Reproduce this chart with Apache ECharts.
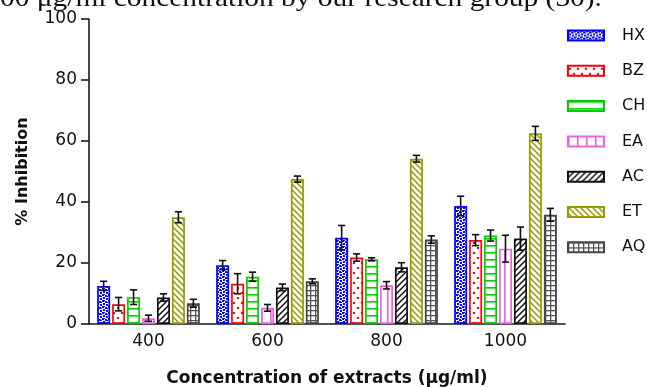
<!DOCTYPE html>
<html>
<head>
<meta charset="utf-8">
<script src="https://cdn.jsdelivr.net/npm/echarts@6/dist/echarts.min.js"></script>
<style>
html,body{margin:0;padding:0;background:#fff;}
#chart{width:647px;height:387px;}
</style>
</head>
<body>
<div id="chart"></div>
<script>
// ---- data ----
const categories = ['400', '600', '800', '1000'];
const seriesNames = ['HX', 'BZ', 'CH', 'EA', 'AC', 'ET', 'AQ'];
const HX = [12.5, 19.3, 28.3, 38.7];
const BZ = [6.5, 13.2, 21.8, 27.5];
const CH = [8.8, 15.5, 21.2, 29.0];
const EA = [1.9, 5.3, 12.7, 24.7];
const AC = [8.7, 12.0, 18.6, 28.0];
const ET = [35.0, 47.5, 54.2, 62.5];
const AQ = [6.8, 14.0, 27.7, 35.8];
const HX_err = [1.5, 1.5, 4.0, 3.2];
const BZ_err = [2.2, 3.3, 1.2, 1.8];
const CH_err = [2.4, 1.5, 0.5, 1.8];
const EA_err = [1.0, 1.1, 1.2, 4.4];
const AC_err = [1.2, 1.1, 1.5, 3.8];
const ET_err = [1.8, 1.0, 1.1, 2.3];
const AQ_err = [1.3, 0.8, 1.2, 2.1];
const yTicks = [0, 20, 40, 60, 80, 100];
const captionText = '00 μg/ml concentration by our research group (30).';

const values = [HX, BZ, CH, EA, AC, ET, AQ];
const errors = [HX_err, BZ_err, CH_err, EA_err, AC_err, ET_err, AQ_err];

// ---- patterns ----
function tile(w, h, draw) {
  const c = document.createElement('canvas');
  c.width = w; c.height = h;
  const ctx = c.getContext('2d');
  ctx.fillStyle = '#ffffff';
  ctx.fillRect(0, 0, w, h);
  draw(ctx, w, h);
  return { image: c, repeat: 'repeat' };
}
function diag(color, lw, w, up) {
  return tile(w, w, function (ctx) {
    ctx.strokeStyle = color; ctx.lineWidth = lw;
    ctx.beginPath();
    if (up) {
      ctx.moveTo(-1, w + 1); ctx.lineTo(w + 1, -1);
      ctx.moveTo(-1, 1); ctx.lineTo(1, -1);
      ctx.moveTo(w - 1, w + 1); ctx.lineTo(w + 1, w - 1);
    } else {
      ctx.moveTo(-1, -1); ctx.lineTo(w + 1, w + 1);
      ctx.moveTo(w - 1, -1); ctx.lineTo(w + 1, 1);
      ctx.moveTo(-1, w - 1); ctx.lineTo(1, w + 1);
    }
    ctx.stroke();
  });
}
const fills = [
  tile(6, 6, function (ctx) {
    ctx.fillStyle = '#0000ff';
    ctx.fillRect(0, 0, 2, 2); ctx.fillRect(3, 1, 2, 2);
    ctx.fillRect(1, 3, 2, 2); ctx.fillRect(4, 4, 2, 2);
    ctx.fillRect(2, 0, 1, 1); ctx.fillRect(5, 2, 1, 1);
  }),
  tile(8, 10, function (ctx) {
    ctx.fillStyle = '#ff0000';
    ctx.fillRect(1, 2, 2, 2); ctx.fillRect(5, 7, 2, 2);
  }),
  tile(4, 7, function (ctx) {
    ctx.fillStyle = '#00cc00';
    ctx.fillRect(0, 0, 4, 1.6);
  }),
  tile(9, 4, function (ctx) {
    ctx.fillStyle = '#f060e0';
    ctx.fillRect(0, 0, 1.6, 4);
  }),
  diag('#111111', 1.5, 6, true),
  diag('#999900', 1.5, 6, false),
  tile(5, 5, function (ctx) {
    ctx.fillStyle = '#555555';
    ctx.fillRect(0, 0, 5, 1.3); ctx.fillRect(0, 0, 1.3, 5);
  })
];
const borders = ['#0000ff', '#ff0000', '#00cc00', '#f060e0', '#111111', '#999900', '#444444'];

const barWidth = 13;
const gapRatio = 0.15;
const step = barWidth * (1 + gapRatio);

const series = [];
seriesNames.forEach(function (name, i) {
  series.push({
    name: name,
    type: 'bar',
    barWidth: barWidth,
    barGap: (gapRatio * 100) + '%',
    data: values[i],
    itemStyle: { color: fills[i], borderColor: borders[i], borderWidth: 1.7 },
    emphasis: { disabled: true },
    z: 2
  });
});
seriesNames.forEach(function (name, i) {
  series.push({
    name: name + ' error',
    type: 'custom',
    z: 5,
    data: values[i].map(function (v, k) { return [k, v, errors[i][k]]; }),
    renderItem: function (params, api) {
      const k = api.value(0), v = api.value(1), e = api.value(2);
      const c = api.coord([k, v]);
      const lo = api.coord([k, v - e])[1];
      const hi = api.coord([k, v + e])[1];
      const x = c[0] + (i - 3) * step;
      const cap = 3.6;
      const st = { stroke: '#111', lineWidth: 1.6, fill: null };
      return {
        type: 'group',
        children: [
          { type: 'line', shape: { x1: x, y1: lo, x2: x, y2: hi }, style: st },
          { type: 'line', shape: { x1: x - cap, y1: lo, x2: x + cap, y2: lo }, style: st },
          { type: 'line', shape: { x1: x - cap, y1: hi, x2: x + cap, y2: hi }, style: st }
        ]
      };
    }
  });
});

const chart = echarts.init(document.getElementById('chart'));
chart.setOption({
  animation: false,
  backgroundColor: '#ffffff',
  textStyle: { fontFamily: 'DejaVu Sans' },
  grid: { left: 89, right: 82, top: 19, bottom: 63, containLabel: false, outerBoundsMode: 'none' },
  legend: {
    orient: 'vertical',
    left: 562,
    top: 22.5,
    itemWidth: 36,
    itemHeight: 10,
    itemGap: 19.3,
    icon: 'rect',
    data: seriesNames,
    selectedMode: false,
    textStyle: { fontFamily: 'DejaVu Sans', fontSize: 16, color: '#111', lineHeight: 16, padding: [0, 0, 0, 13] }
  },
  graphic: [{
    type: 'text',
    x: 0,
    y: 0,
    scaleX: 1.2,
    silent: true,
    style: {
      text: captionText,
      font: '24.5px "Liberation Serif"',
      fill: '#111',
      verticalAlign: 'middle',
      align: 'left'
    }
  }],
  xAxis: {
    type: 'category',
    data: categories,
    boundaryGap: true,
    name: 'Concentration of extracts (μg/ml)',
    nameLocation: 'middle',
    nameGap: 46,
    nameTextStyle: { fontFamily: 'DejaVu Sans', fontWeight: 'bold', fontSize: 17, color: '#111' },
    axisLine: { lineStyle: { color: '#1a1a1a', width: 1.6 } },
    axisTick: { alignWithLabel: true, length: 6, lineStyle: { color: '#1a1a1a', width: 1.6 } },
    axisLabel: { fontFamily: 'DejaVu Sans', fontSize: 17, color: '#111', margin: 9 },
    splitLine: { show: false }
  },
  yAxis: {
    type: 'value',
    min: yTicks[0],
    max: yTicks[yTicks.length - 1],
    interval: yTicks[1] - yTicks[0],
    name: '% Inhibition',
    nameLocation: 'middle',
    nameGap: 58,
    nameTextStyle: { fontFamily: 'DejaVu Sans', fontWeight: 'bold', fontSize: 16, color: '#111' },
    axisLine: { show: true, lineStyle: { color: '#1a1a1a', width: 1.6 } },
    axisTick: { show: true, length: 8, lineStyle: { color: '#1a1a1a', width: 1.6 } },
    axisLabel: { fontFamily: 'DejaVu Sans', fontSize: 17, color: '#111', margin: 12 },
    splitLine: { show: false }
  },
  series: series
});
</script>
</body>
</html>
